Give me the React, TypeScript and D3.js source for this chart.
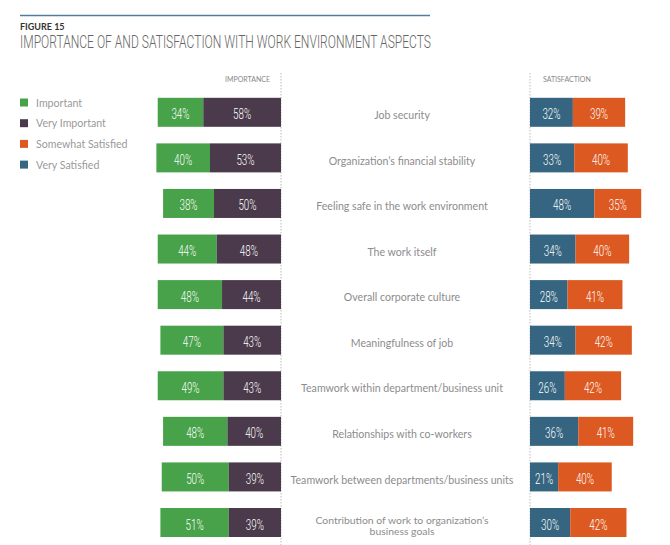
import React from "react";
import * as d3 from "d3";

const categories = [
  "Job security",
  "Organization’s financial stability",
  "Feeling safe in the work environment",
  "The work itself",
  "Overall corporate culture",
  "Meaningfulness of job",
  "Teamwork within department/business unit",
  "Relationships with co-workers",
  "Teamwork between departments/business units",
  "Contribution of work to organization’s\nbusiness goals",
];
const important = [34, 40, 38, 44, 48, 47, 49, 48, 50, 51];
const veryImportant = [58, 53, 50, 48, 44, 43, 43, 40, 39, 39];
const verySatisfied = [32, 33, 48, 34, 28, 34, 26, 36, 21, 30];
const somewhatSatisfied = [39, 40, 35, 40, 41, 42, 42, 41, 40, 42];
const legendLabels = ["Important", "Very Important", "Somewhat Satisfied", "Very Satisfied"];

const C_IMP = "#47a24a";
const C_VIMP = "#4a3a4b";
const C_SOM = "#dc5a22";
const C_VS = "#356580";
const legendColors = [C_IMP, C_VIMP, C_SOM, C_VS];

const W = 670;
const H = 545;
const LEFT_AXIS = 281;
const RIGHT_AXIS = 530;
const BAR_H = 29;
const labelFont = "Lato, 'Open Sans', sans-serif";
const numFont = "Roboto, 'Liberation Sans', sans-serif";

export default function App() {
  const x = d3.scaleLinear().domain([0, 100]).range([0, 134]);
  const y = d3.scalePoint<string>().domain(categories).range([112.3, 522.5]);

  return (
    <div style={{ position: "absolute", left: 0, top: 0 }}>
      <svg width={W} height={H} style={{ display: "block", background: "#fff" }}>
        <line x1={20} x2={430} y1={15.5} y2={15.5} stroke="#4f7d9c" strokeWidth={1.5} />
        <text x={20} y={29.5} fontFamily={labelFont} fontWeight={700} fontSize={9} fill="#333">
          FIGURE 15
        </text>
        <text
          x={20}
          y={47.5}
          fontFamily={numFont}
          fontWeight={300}
          fontSize={17.5}
          fill="#666"
          textLength={411}
          lengthAdjust="spacingAndGlyphs"
        >
          IMPORTANCE OF AND SATISFACTION WITH WORK ENVIRONMENT ASPECTS
        </text>

        {legendLabels.map((l, i) => (
          <g key={l} transform={`translate(20, ${98.5 + i * 20.7})`}>
            <rect width={8} height={8} fill={legendColors[i]} />
            <text x={16} y={8} fontFamily={labelFont} fontSize={10.6} fill="#9a9a9a">
              {l}
            </text>
          </g>
        ))}

        <line x1={LEFT_AXIS} x2={LEFT_AXIS} y1={73} y2={H} stroke="#bbb" strokeDasharray="1.5,1.5" />
        <line x1={RIGHT_AXIS} x2={RIGHT_AXIS} y1={73} y2={H} stroke="#bbb" strokeDasharray="1.5,1.5" />
        <text x={270} y={81.5} textAnchor="end" fontFamily={labelFont} fontSize={7} fill="#888">
          IMPORTANCE
        </text>
        <text x={543} y={81.5} fontFamily={labelFont} fontSize={7} fill="#888">
          SATISFACTION
        </text>

        {categories.map((c, i) => {
          const cy = y(c)!;
          const top = cy - BAR_H / 2;
          const vi = x(veryImportant[i]);
          const im = x(important[i]);
          const vs = x(verySatisfied[i]);
          const sw = x(somewhatSatisfied[i]);
          const lines = c.split("\n");
          const segs = [
            { x0: LEFT_AXIS - vi - im, w: im, color: C_IMP, v: important[i] },
            { x0: LEFT_AXIS - vi, w: vi, color: C_VIMP, v: veryImportant[i] },
            { x0: RIGHT_AXIS, w: vs, color: C_VS, v: verySatisfied[i] },
            { x0: RIGHT_AXIS + vs, w: sw, color: C_SOM, v: somewhatSatisfied[i] },
          ];
          return (
            <g key={c}>
              {segs.map((s, j) => (
                <g key={j}>
                  <rect x={s.x0} y={top} width={s.w} height={BAR_H} fill={s.color} />
                  <text
                    transform={`translate(${s.x0 + s.w / 2}, ${cy + 7}) scale(0.7, 1)`}
                    textAnchor="middle"
                    fontFamily={numFont}
                    fontWeight={300}
                    fontSize={14}
                    fill="#fff"
                  >
                    {s.v}%
                  </text>
                </g>
              ))}
              {lines.length === 1 ? (
                <text
                  x={402}
                  y={cy + 6.7}
                  textAnchor="middle"
                  fontFamily={labelFont}
                  fontSize={10.6}
                  fill="#8c8c8c"
                >
                  {lines[0]}
                </text>
              ) : (
                lines.map((ln, k) => (
                  <text
                    key={k}
                    x={402}
                    y={cy + 1 + k * 11}
                    textAnchor="middle"
                    fontFamily={labelFont}
                    fontSize={10.4}
                    fill="#8c8c8c"
                  >
                    {ln}
                  </text>
                ))
              )}
            </g>
          );
        })}
      </svg>
    </div>
  );
}
